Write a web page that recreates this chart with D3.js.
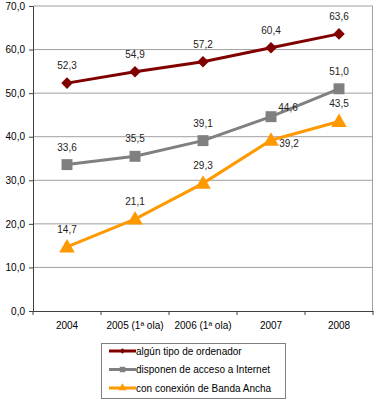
<!DOCTYPE html>
<html>
<head>
<meta charset="utf-8">
<script src="https://cdn.jsdelivr.net/npm/d3@7"></script>
<style>
  body { margin: 0; background: #fff; }
  svg { font-family: "Liberation Sans", Arial, sans-serif; }
  .tick text { font-size: 10px; fill: #000; }
  .lbl { font-size: 10px; fill: #222; }
  .leg { font-size: 10px; fill: #000; }
</style>
</head>
<body>
<svg id="chart" width="376" height="400"></svg>
<script>
// categories and series
const years = ["2004", "2005 (1ª ola)", "2006 (1ª ola)", "2007", "2008"];
const ordenador = [52.3, 54.9, 57.2, 60.4, 63.6];
const internet = [33.6, 35.5, 39.1, 44.6, 51.0];
const banda = [14.7, 21.1, 29.3, 39.2, 43.5];
const seriesNames = ["algún tipo de ordenador", "disponen de acceso a Internet", "con conexión de Banda Ancha"];
const yTicks = [0, 10, 20, 30, 40, 50, 60, 70];

const svg = d3.select("#chart");
const m = { left: 33, right: 373, top: 6, bottom: 311 };

const x = d3.scaleBand().domain(years).range([m.left, m.right]);
const y = d3.scaleLinear().domain([0, 70]).range([m.bottom, m.top]);
const fmt = v => v.toFixed(1).replace(".", ",");

const series = [
  { name: seriesNames[0], values: ordenador, color: "#800000", shape: "diamond" },
  { name: seriesNames[1], values: internet, color: "#808080", shape: "square" },
  { name: seriesNames[2], values: banda, color: "#ff9900", shape: "triangle" }
];

// gridlines
svg.append("g").selectAll("line")
  .data(yTicks.slice(1))
  .enter().append("line")
  .attr("x1", m.left).attr("x2", m.right)
  .attr("y1", d => y(d)).attr("y2", d => y(d))
  .attr("stroke", "#a0a0a0").attr("stroke-width", 1);

// right border
svg.append("line")
  .attr("x1", m.right - 0.5).attr("x2", m.right - 0.5)
  .attr("y1", m.top).attr("y2", m.bottom)
  .attr("stroke", "#a0a0a0");

// y axis
const yAxis = svg.append("g")
  .attr("transform", `translate(${m.left},0)`)
  .call(d3.axisLeft(y).tickValues(yTicks).tickFormat(fmt).tickSize(4).tickPadding(4));
yAxis.selectAll("path, line").attr("stroke", "#404040");

// x axis
const xAxis = svg.append("g")
  .attr("transform", `translate(0,${m.bottom})`)
  .call(d3.axisBottom(x).tickSize(0).tickPadding(11));
xAxis.select("path").attr("stroke", "#404040");
// boundary ticks between categories
svg.append("g").selectAll("line")
  .data(years.concat(["end"]))
  .enter().append("line")
  .attr("x1", (d, i) => m.left + i * x.bandwidth())
  .attr("x2", (d, i) => m.left + i * x.bandwidth())
  .attr("y1", m.bottom).attr("y2", m.bottom + 4)
  .attr("stroke", "#404040");

const cx = d => x(d) + x.bandwidth() / 2;

function symbolPath(shape) {
  if (shape === "diamond") return d3.symbol(d3.symbolDiamond2, 85)();
  if (shape === "square") return d3.symbol(d3.symbolSquare, 120)();
  return d3.symbol(d3.symbolTriangle, 105)();
}

const line = d3.line().x(d => cx(d.cat)).y(d => y(d.v));

series.forEach(s => {
  const pts = s.values.map((v, i) => ({ cat: years[i], v }));
  svg.append("path")
    .datum(pts)
    .attr("d", line)
    .attr("fill", "none")
    .attr("stroke", s.color)
    .attr("stroke-width", 3);
  svg.append("g").selectAll("path")
    .data(pts)
    .enter().append("path")
    .attr("d", symbolPath(s.shape))
    .attr("transform", d => `translate(${cx(d.cat)},${y(d.v) + (s.shape === "triangle" ? 1 : 0)})`)
    .attr("fill", s.color);
});

// data labels (a couple are placed beside the point)
const labelOffset = (si, i) => {
  if (si === 1 && i === 3) return [17, -6];
  if (si === 2 && i === 3) return [18, 7];
  return [0, -14];
};
series.forEach((s, si) => {
  svg.append("g").selectAll("text")
    .data(s.values)
    .enter().append("text")
    .attr("class", "lbl")
    .attr("text-anchor", "middle")
    .attr("x", (d, i) => cx(years[i]) + labelOffset(si, i)[0])
    .attr("y", (d, i) => y(d) + labelOffset(si, i)[1])
    .text(fmt);
});

// legend
const leg = svg.append("g").attr("transform", "translate(101,343)");
leg.append("rect")
  .attr("x", 0.5).attr("y", 0.5)
  .attr("width", 184).attr("height", 55)
  .attr("fill", "#fff").attr("stroke", "#808080");
series.forEach((s, i) => {
  const g = leg.append("g").attr("transform", `translate(0,${8 + i * 18.5})`);
  g.append("line")
    .attr("x1", 8).attr("x2", 35)
    .attr("stroke", s.color).attr("stroke-width", 3);
  g.append("path")
    .attr("d", s.shape === "diamond" ? d3.symbol(d3.symbolDiamond2, 20)()
      : s.shape === "square" ? d3.symbol(d3.symbolSquare, 30)()
      : d3.symbol(d3.symbolTriangle, 28)())
    .attr("transform", "translate(21.5,0)")
    .attr("fill", s.color);
  g.append("text")
    .attr("class", "leg")
    .attr("x", 35).attr("y", 3.5)
    .text(s.name);
});
</script>
</body>
</html>
